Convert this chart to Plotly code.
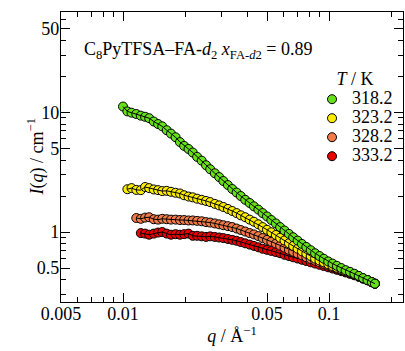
import math
import plotly.graph_objects as go

# ---- data ----
Q = [0.0100, 0.0105, 0.0110, 0.0116, 0.0122, 0.0128, 0.0134, 0.0141, 0.0148, 0.0155,
     0.0163, 0.0171, 0.0180, 0.0189, 0.0198, 0.0208, 0.0218, 0.0229, 0.0241, 0.0253,
     0.0265, 0.0279, 0.0293, 0.0307, 0.0323, 0.0339, 0.0356, 0.0373, 0.0392, 0.0412,
     0.0432, 0.0454, 0.0476, 0.0500, 0.0525, 0.0552, 0.0579, 0.0608, 0.0639, 0.0670,
     0.0704, 0.0739, 0.0776, 0.0815, 0.0856, 0.0899, 0.0943, 0.0991, 0.1040, 0.1092,
     0.1147, 0.1204, 0.1264, 0.1328, 0.1394, 0.1464, 0.1537, 0.1614, 0.1670]

temps = ["318.2", "323.2", "328.2", "333.2"]
colors = ["#66e01a", "#fbec00", "#f07a48", "#e80000"]
start_index = [0, 1, 3, 4]

I_318 = [11.2, 10.2, 9.95, 9.7, 9.4, 9.2, 8.95, 8.4, 8.0, 7.65,
         7.1, 6.65, 6.2, 5.65, 5.25, 4.95, 4.62, 4.25, 3.95, 3.62,
         3.35, 3.1, 2.88, 2.67, 2.47, 2.29, 2.14, 2.0, 1.86, 1.75,
         1.64, 1.54, 1.44, 1.35, 1.26, 1.18, 1.10, 1.03, 0.965, 0.905,
         0.848, 0.795, 0.75, 0.705, 0.665, 0.63, 0.598, 0.568, 0.545, 0.522,
         0.5, 0.48, 0.465, 0.448, 0.43, 0.412, 0.397, 0.382, 0.37]
I_323 = [2.28, 2.33, 2.25, 2.24, 2.38, 2.33, 2.27, 2.24, 2.2,
         2.21, 2.17, 2.13, 2.1, 2.03, 1.98, 1.95, 1.9, 1.86, 1.82,
         1.78, 1.72, 1.67, 1.62, 1.56, 1.5, 1.44, 1.38, 1.33, 1.27,
         1.22, 1.16, 1.1, 1.045, 0.995, 0.945, 0.895, 0.85, 0.805, 0.765,
         0.725, 0.69, 0.66, 0.63, 0.6, 0.578, 0.558, 0.538, 0.52, 0.503,
         0.487, 0.472, 0.458, 0.443, 0.427, 0.41, 0.396, 0.381, 0.37]
I_328 = [1.31, 1.29, 1.32, 1.33, 1.28, 1.27, 1.29,
         1.28, 1.27, 1.27, 1.26, 1.26, 1.25, 1.25, 1.24, 1.23, 1.21,
         1.2, 1.18, 1.16, 1.14, 1.12, 1.1, 1.07, 1.04, 1.01, 0.98,
         0.955, 0.925, 0.89, 0.86, 0.83, 0.8, 0.77, 0.74, 0.71, 0.685,
         0.66, 0.638, 0.615, 0.595, 0.576, 0.558, 0.541, 0.525, 0.51, 0.495,
         0.481, 0.467, 0.454, 0.44, 0.425, 0.409, 0.395, 0.381, 0.37]
I_333 = [0.98, 0.97, 0.95, 0.97, 0.99, 1.0,
         0.97, 0.95, 0.96, 0.95, 0.96, 0.97, 0.93, 0.93, 0.92, 0.91,
         0.92, 0.91, 0.9, 0.89, 0.875, 0.86, 0.845, 0.825, 0.805, 0.785,
         0.765, 0.745, 0.725, 0.71, 0.695, 0.68, 0.665, 0.645, 0.63, 0.615,
         0.6, 0.586, 0.572, 0.558, 0.545, 0.532, 0.52, 0.507, 0.495, 0.483,
         0.471, 0.459, 0.447, 0.435, 0.422, 0.408, 0.395, 0.381, 0.37]
series = [I_318, I_323, I_328, I_333]

x_major = [0.005, 0.01, 0.05, 0.1]
x_major_text = ["0.005", "0.01", "0.05", "0.1"]
x_minor = [0.006, 0.007, 0.008, 0.009, 0.02, 0.03, 0.04, 0.06, 0.07, 0.08, 0.09, 0.2]
y_major = [0.5, 1, 5, 10, 50]
y_major_text = ["0.5", "1", "5", "10", "50"]
y_minor = [0.3, 0.4, 0.6, 0.7, 0.8, 0.9, 2, 3, 4, 6, 7, 8, 9, 20, 30, 40, 60]

FONT = "Liberation Serif"

fig = go.Figure()
# draw from highest T to lowest so green ends up on top
for idx in [3, 2, 1, 0]:
    qs = Q[start_index[idx]:]
    vals = series[idx]
    fig.add_trace(go.Scatter(
        x=qs, y=vals, mode="markers",
        name='<span style="font-size:18px">' + temps[idx] + "</span>",
        marker=dict(size=9, color=colors[idx], line=dict(color="black", width=1)),
        legendrank=idx + 1,
    ))
    fig.add_trace(go.Scatter(
        x=qs, y=vals, mode="lines", showlegend=False,
        line=dict(color="black", width=1), hoverinfo="skip",
    ))

axis_common = dict(
    type="log", showline=True, linecolor="black", linewidth=1.3, mirror="ticks",
    ticks="inside", ticklen=9, tickwidth=1.2, tickcolor="black",
    showgrid=False, zeroline=False,
    tickfont=dict(family=FONT, size=18, color="black"),
)

fig.update_xaxes(
    **axis_common,
    range=[math.log10(0.005), math.log10(0.005) + 342 / 206],
    tickmode="array", tickvals=x_major, ticktext=x_major_text,
    ticklabelstandoff=-5,
    minor=dict(tickmode="array", tickvals=x_minor, ticks="inside", ticklen=5,
               tickwidth=1.2, tickcolor="black", showgrid=False),
    title=dict(text="<i>q</i> / Å<sup>−1</sup>", font=dict(family=FONT, size=18, color="black"),
               standoff=0),
)
fig.update_yaxes(
    **axis_common,
    range=[math.log10(0.26), math.log10(0.26) + 290 / 119.6],
    tickmode="array", tickvals=y_major, ticktext=y_major_text,
    ticklabelstandoff=-3,
    minor=dict(tickmode="array", tickvals=y_minor, ticks="inside", ticklen=5,
               tickwidth=1.2, tickcolor="black", showgrid=False),
)

# y-axis title
fig.add_annotation(
    xref="paper", yref="paper", x=-0.072, y=0.5, xanchor="center", yanchor="middle",
    textangle=-90, text="<i>I</i>(<i>q</i>) / cm<sup>−1</sup>", showarrow=False,
    font=dict(family=FONT, size=18, color="black"),
)

fig.add_annotation(
    xref="paper", yref="paper", x=0.06, y=0.866, xanchor="left", yanchor="middle",
    text="C<sub>8</sub>PyTFSA–FA-<i>d</i><sub>2</sub> <i>x</i><sub>FA-<i>d</i>2</sub> = 0.89",
    showarrow=False, font=dict(family=FONT, size=18, color="black"),
)

fig.update_layout(
    width=405, height=351,
    margin=dict(l=61, r=2, t=12, b=49),
    paper_bgcolor="white", plot_bgcolor="white",
    font=dict(family=FONT, color="black"),
    legend=dict(
        x=0.734, y=0.83, xanchor="left", yanchor="top",
        font=dict(family=FONT, size=11.2, color="black"),
        title=dict(text="<i>T</i> / K", side="top center", font=dict(family=FONT, size=18, color="black")),
        bgcolor="rgba(0,0,0,0)", borderwidth=0,
        tracegroupgap=0,
    ),
)

fig.write_html("out.html", config={"displayModeBar": False},
               post_script="document.body.style.margin='0';document.body.style.padding='0';")
